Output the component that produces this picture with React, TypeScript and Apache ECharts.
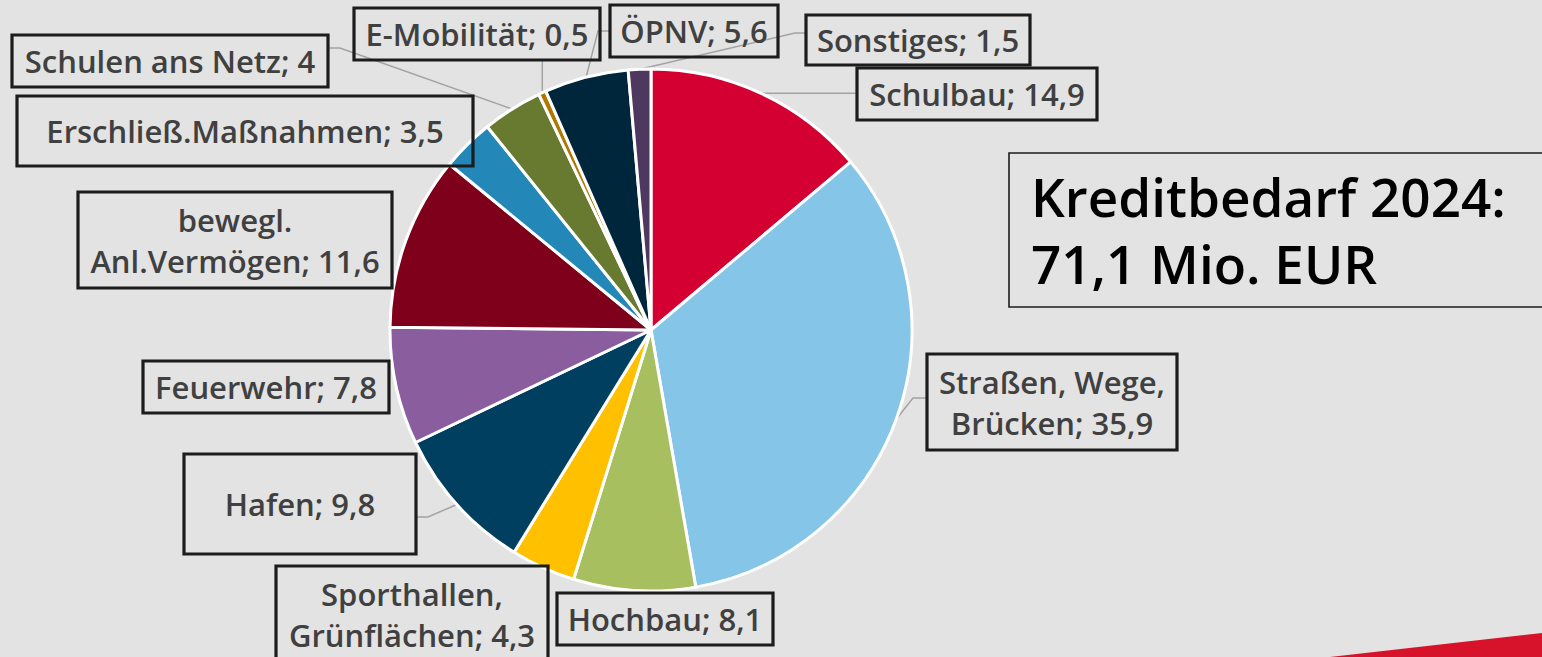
import React, { useEffect, useRef } from 'react';
import * as echarts from 'echarts';

const categories = [
  'Schulbau',
  'Straßen, Wege,\nBrücken',
  'Hochbau',
  'Sporthallen,\nGrünflächen',
  'Hafen',
  'Feuerwehr',
  'bewegl.\nAnl.Vermögen',
  'Erschließ.Maßnahmen',
  'Schulen ans Netz',
  'E-Mobilität',
  'ÖPNV',
  'Sonstiges',
];
const values = [14.9, 35.9, 8.1, 4.3, 9.8, 7.8, 11.6, 3.5, 4, 0.5, 5.6, 1.5];
const colors = [
  '#d50032', '#85c6e8', '#a8bf5f', '#ffc000', '#003f5f', '#8a5e9e',
  '#7f001b', '#2387b8', '#677a30', '#b07800', '#00263c', '#4f3860',
];
const titleLines = ['Kreditbedarf 2024:', '71,1 Mio. EUR'];

// label boxes: centre x, centre y, width, height
const labelBoxes: [number, number, number, number][] = [
  [977, 94, 240, 52],
  [1052, 402, 250, 96],
  [665, 619, 216, 52],
  [412, 614, 272, 96],
  [300, 504, 232, 100],
  [266, 387, 246, 52],
  [235, 240, 314, 96],
  [245, 131, 456, 70],
  [170, 61, 316, 52],
  [477, 34, 246, 52],
  [694, 31, 168, 52],
  [918, 40, 224, 50],
];
// connector routing: side of box, offset along that side, second segment length
const lineRoutes: (any[] | null)[] = [
  ['h'],
  ['left', -4, 14],
  null,
  null,
  ['right', 13, 12],
  null,
  null,
  null,
  ['right', -13, 12],
  ['v'],
  ['left', 0, 12],
  ['left', -7, 11],
];

const CX = 651;
const CY = 330;
const R = 261;
const LH = 41;

export default function App() {
  const ref = useRef<HTMLDivElement>(null);
  useEffect(() => {
    if (!ref.current) return;
    const chart = echarts.init(ref.current, undefined, { renderer: 'svg' });
    const total = values.reduce((a, b) => a + b, 0);
    const mids: number[] = [];
    let cum = 0;
    values.forEach((v) => {
      mids.push(((cum + v / 2) / total) * Math.PI * 2);
      cum += v;
    });
    const data = categories.map((name, i) => {
      const b = labelBoxes[i];
      const lines = name.split('\n').length;
      const padV = Math.max(0, (b[3] - lines * LH) / 2);
      return {
        name,
        value: values[i],
        itemStyle: { color: colors[i] },
        label: { width: b[2], padding: [padV, 0, padV, 0] },
        labelLine: { show: !!lineRoutes[i] },
      };
    });
    chart.setOption({
      animation: false,
      backgroundColor: '#e3e3e3',
      series: [
        {
          type: 'pie',
          center: [CX, CY],
          radius: R,
          startAngle: 90,
          clockwise: true,
          avoidLabelOverlap: false,
          emphasis: { disabled: true },
          itemStyle: { borderColor: '#ffffff', borderWidth: 3 },
          label: {
            show: true,
            position: 'outside',
            overflow: 'none',
            formatter: (p: any) => `${p.name}; ${String(p.value).replace('.', ',')}`,
            fontFamily: '"Open Sans", sans-serif',
            fontWeight: 600,
            fontSize: 31,
            lineHeight: LH,
            color: '#404040',
            align: 'center',
            borderColor: '#1c1c1c',
            borderWidth: 1.6,
            backgroundColor: 'transparent',
          },
          labelLine: {
            show: true,
            length: 10,
            length2: 10,
            lineStyle: { color: '#a3a3a3', width: 1.5 },
          },
          labelLayout: (params: any) => {
            const i = params.dataIndex;
            const b = labelBoxes[i];
            const out: any = { x: b[0], y: b[1], align: 'center', verticalAlign: 'middle' };
            const route = lineRoutes[i];
            if (route) {
              const a = mids[i];
              const p0 = [CX + R * Math.sin(a), CY - R * Math.cos(a)];
              const left = b[0] - b[2] / 2;
              const right = b[0] + b[2] / 2;
              const bottom = b[1] + b[3] / 2;
              let p1: number[];
              let p2: number[];
              if (route[0] === 'h') {
                p2 = [left, p0[1]];
                p1 = [(p0[0] + left) / 2, p0[1]];
              } else if (route[0] === 'v') {
                p2 = [p0[0], bottom];
                p1 = [p0[0], (p0[1] + bottom) / 2];
              } else if (route[0] === 'left') {
                p2 = [left, b[1] + route[1]];
                p1 = [left - route[2], b[1] + route[1]];
              } else {
                p2 = [right, b[1] + route[1]];
                p1 = [right + route[2], b[1] + route[1]];
              }
              out.labelLinePoints = [p0, p1, p2];
            }
            return out;
          },
          data,
        },
      ],
      graphic: [
        {
          type: 'polygon',
          shape: { points: [[1330, 657], [1542, 633], [1542, 657]] },
          style: { fill: '#d7132b' },
        },
        {
          type: 'rect',
          shape: { x: 1009, y: 153, width: 560, height: 154 },
          style: { fill: 'none', stroke: '#1c1c1c', lineWidth: 1.6 },
        },
        {
          type: 'text',
          x: 1031,
          y: 163,
          style: {
            text: titleLines.join('\n'),
            font: '600 53px "Open Sans", sans-serif',
            lineHeight: 67,
            fill: '#000000',
            verticalAlign: 'top',
            align: 'left',
          },
        },
      ],
    });
    return () => chart.dispose();
  }, []);
  return (
    <div
      ref={ref}
      style={{ position: 'fixed', left: 0, top: 0, width: 1542, height: 657 }}
    />
  );
}
